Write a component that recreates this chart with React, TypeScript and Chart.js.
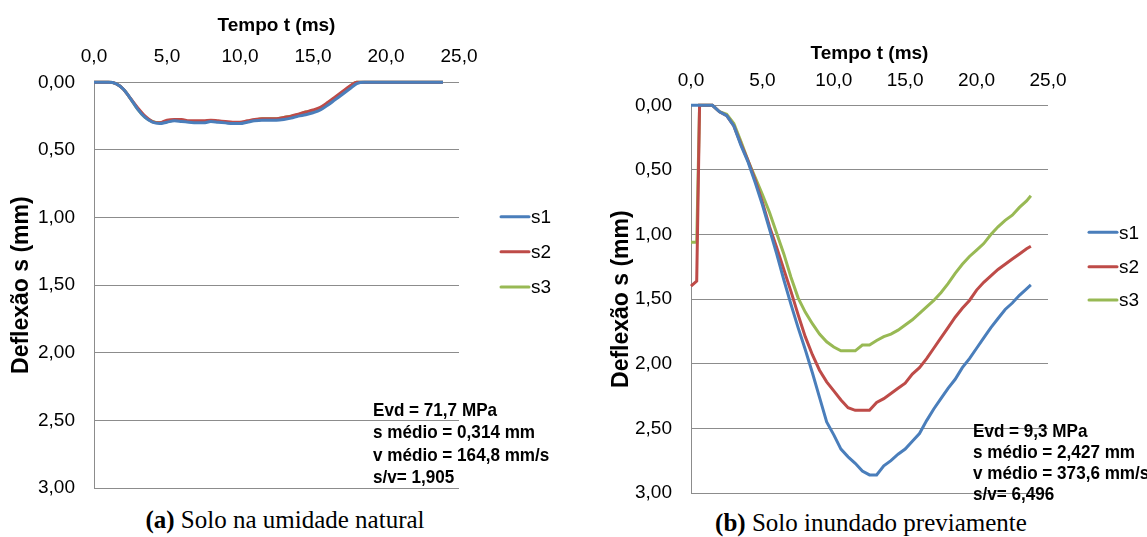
import React, { useEffect, useRef } from 'react';
import { Chart, registerables } from 'chart.js';

Chart.register(...registerables);

// ---------- data ----------
const SERIES_NAMES = ['s1', 's2', 's3'];
const SERIES_COLORS = ['#4A7EBB', '#BE4B48', '#98B954'];

const X_TICKS = [0, 5, 10, 15, 20, 25];
const Y_TICKS = [0, 0.5, 1, 1.5, 2, 2.5, 3];

// (a) Solo na umidade natural
const timeA = [0, 0.5, 1, 1.5, 2, 2.5, 3, 3.5, 4, 4.5, 5, 5.5, 6, 6.5, 7, 7.5, 8, 8.5, 9, 9.5, 10, 10.5, 11, 11.5, 12, 12.5, 13, 13.5, 14, 14.5, 15, 15.5, 16, 16.5, 17, 17.5, 18, 18.5, 19, 19.5, 20, 20.5, 21, 21.5, 22, 22.5, 23, 23.5, 23.9];
const s1A = [0, 0, 0, 0.01, 0.05, 0.12, 0.2, 0.26, 0.295, 0.305, 0.295, 0.285, 0.29, 0.295, 0.3, 0.3, 0.29, 0.295, 0.3, 0.305, 0.305, 0.295, 0.285, 0.28, 0.28, 0.28, 0.275, 0.265, 0.25, 0.24, 0.225, 0.205, 0.17, 0.13, 0.09, 0.05, 0.01, 0, 0, 0, 0, 0, 0, 0, 0, 0, 0, 0, 0];
const s2A = [0, 0, 0, 0.01, 0.05, 0.12, 0.19, 0.25, 0.29, 0.3, 0.28, 0.275, 0.275, 0.285, 0.285, 0.285, 0.28, 0.285, 0.29, 0.295, 0.295, 0.285, 0.275, 0.27, 0.27, 0.27, 0.26, 0.25, 0.235, 0.22, 0.205, 0.185, 0.15, 0.11, 0.07, 0.03, 0, 0, 0, 0, 0, 0, 0, 0, 0, 0, 0, 0, 0];
const s3A = [0, 0, 0, 0.01, 0.05, 0.12, 0.2, 0.26, 0.29, 0.3, 0.29, 0.28, 0.28, 0.29, 0.29, 0.29, 0.285, 0.29, 0.295, 0.3, 0.3, 0.29, 0.28, 0.27, 0.27, 0.27, 0.26, 0.25, 0.24, 0.22, 0.21, 0.19, 0.155, 0.115, 0.075, 0.035, 0, 0, 0, 0, 0, 0, 0, 0, 0, 0, 0, 0, 0];
const notesA = ['Evd = 71,7 MPa', 's médio = 0,314 mm', 'v médio = 164,8 mm/s', 's/v= 1,905'];

// (b) Solo inundado previamente
const timeB = [0, 0.4, 0.6, 1, 1.5, 2, 2.5, 3, 3.5, 4, 4.5, 5, 5.5, 6, 6.5, 7, 7.5, 8, 8.5, 9, 9.5, 10, 10.5, 11, 11.5, 12, 12.5, 13, 13.5, 14, 14.5, 15, 15.5, 16, 16.5, 17, 17.5, 18, 18.5, 19, 19.5, 20, 20.5, 21, 21.5, 22, 22.5, 23, 23.5, 23.8];
const s1B = [0, 0, 0, 0, 0, 0.05, 0.08, 0.16, 0.31, 0.44, 0.6, 0.77, 0.96, 1.15, 1.35, 1.54, 1.72, 1.89, 2.07, 2.26, 2.45, 2.55, 2.66, 2.72, 2.77, 2.83, 2.86, 2.86, 2.79, 2.75, 2.7, 2.66, 2.6, 2.54, 2.44, 2.35, 2.27, 2.19, 2.12, 2.03, 1.96, 1.88, 1.8, 1.72, 1.65, 1.58, 1.53, 1.47, 1.42, 1.39];
const s2B = [1.4, 1.36, 0, 0, 0, 0.05, 0.08, 0.16, 0.3, 0.43, 0.58, 0.75, 0.94, 1.1, 1.27, 1.44, 1.62, 1.79, 1.93, 2.05, 2.14, 2.21, 2.28, 2.34, 2.36, 2.36, 2.36, 2.3, 2.27, 2.23, 2.19, 2.15, 2.08, 2.03, 1.96, 1.88, 1.8, 1.72, 1.64, 1.57, 1.51, 1.43, 1.37, 1.32, 1.27, 1.23, 1.19, 1.15, 1.11, 1.09];
const s3B = [1.06, 1.06, 0, 0, 0, 0.05, 0.07, 0.14, 0.28, 0.43, 0.56, 0.69, 0.83, 0.99, 1.15, 1.33, 1.49, 1.6, 1.69, 1.77, 1.83, 1.87, 1.9, 1.9, 1.9, 1.855, 1.855, 1.82, 1.79, 1.77, 1.74, 1.7, 1.66, 1.61, 1.56, 1.51, 1.45, 1.38, 1.3, 1.23, 1.17, 1.12, 1.07, 1, 0.94, 0.89, 0.85, 0.79, 0.74, 0.7];
const notesB = ['Evd = 9,3 MPa', 's médio = 2,427 mm', 'v médio = 373,6 mm/s', 's/v= 6,496'];

const X_TITLE = 'Tempo t (ms)';
const Y_TITLE = 'Deflexão s (mm)';

// ---------- helpers ----------
const SANS = '"Liberation Sans", Arial, sans-serif';

type Layout = {
  padTop: number; padRight: number; padBottom: number;
  yAxisWidth: number; xAxisHeight: number;
  tickPadX: number; titlePadX: number; titlePadY: number;
  legendX: number; legendY: number[];
  notesX: number; notesY: number; notesDy: number;
  smooth: boolean;
};

function makeConfig(time: number[], series: number[][], notes: string[], L: Layout): any {
  const datasets = series.map((vals, i) => ({
    label: SERIES_NAMES[i],
    data: vals.map((v, j) => ({ x: time[j], y: v })),
    borderColor: SERIES_COLORS[i],
    backgroundColor: SERIES_COLORS[i],
    borderWidth: 3,
    pointRadius: 0,
    fill: false,
    clip: false,
    tension: L.smooth ? 0.4 : 0,
    cubicInterpolationMode: L.smooth ? 'monotone' : 'default',
  }));

  const legendPlugin = {
    id: 'sideLegend',
    afterDraw(chart: any) {
      const ctx = chart.ctx;
      chart.data.datasets.forEach((ds: any, i: number) => {
        const y = L.legendY[i];
        ctx.save();
        ctx.strokeStyle = ds.borderColor;
        ctx.lineWidth = 3;
        ctx.lineCap = 'round';
        ctx.beginPath();
        ctx.moveTo(L.legendX + 1, y);
        ctx.lineTo(L.legendX + 29, y);
        ctx.stroke();
        ctx.fillStyle = '#000';
        ctx.font = `19px ${SANS}`;
        ctx.textAlign = 'left';
        ctx.textBaseline = 'middle';
        ctx.fillText(ds.label, L.legendX + 31, y + 1);
        ctx.restore();
      });
    },
  };

  const notesPlugin = {
    id: 'notes',
    afterDraw(chart: any) {
      const ctx = chart.ctx;
      notes.forEach((t, i) => {
        ctx.save();
        ctx.translate(L.notesX, L.notesY + i * L.notesDy);
        ctx.scale(0.9, 1);
        ctx.fillStyle = '#000';
        ctx.font = `bold 19px ${SANS}`;
        ctx.textAlign = 'left';
        ctx.textBaseline = 'middle';
        ctx.fillText(t, 0, 0);
        ctx.restore();
      });
    },
  };

  return {
    type: 'line',
    data: { datasets },
    options: {
      responsive: false,
      animation: false,
      devicePixelRatio: 1,
      events: [],
      layout: { padding: { left: 0, top: L.padTop, right: L.padRight, bottom: L.padBottom } },
      plugins: { legend: { display: false }, tooltip: { enabled: false }, title: { display: false } },
      scales: {
        x: {
          type: 'linear',
          position: 'top',
          min: 0,
          max: 25,
          afterBuildTicks: (scale: any) => { scale.ticks = X_TICKS.map((v) => ({ value: v })); },
          afterFit: (scale: any) => {
            scale.height = L.xAxisHeight;
            scale.paddingLeft = 0;
            scale.paddingRight = 0;
          },
          ticks: {
            padding: L.tickPadX,
            color: '#000',
            font: { family: SANS, size: 19 },
            maxRotation: 0,
            callback: (v: any) => Number(v).toFixed(1).replace('.', ','),
          },
          grid: { display: false, drawTicks: false },
          border: { display: false },
          title: {
            display: true,
            text: X_TITLE,
            color: '#000',
            font: { family: SANS, size: 19, weight: 'bold' },
            padding: { top: L.titlePadX, bottom: 0 },
          },
        },
        y: {
          type: 'linear',
          position: 'left',
          reverse: true,
          min: 0,
          max: 3,
          afterBuildTicks: (scale: any) => { scale.ticks = Y_TICKS.map((v) => ({ value: v })); },
          afterFit: (scale: any) => {
            scale.width = L.yAxisWidth;
            scale.paddingTop = 0;
            scale.paddingBottom = 0;
          },
          ticks: {
            padding: 19,
            color: '#000',
            font: { family: SANS, size: 19 },
            callback: (v: any) => Number(v).toFixed(2).replace('.', ','),
          },
          grid: { color: '#8C8C8C', lineWidth: 1, drawTicks: false },
          border: { display: true, color: '#8C8C8C', width: 1 },
          title: {
            display: true,
            text: Y_TITLE,
            color: '#000',
            font: { family: SANS, size: 23, weight: 'bold' },
            padding: { top: L.titlePadY, bottom: 0 },
          },
        },
      },
    },
    plugins: [legendPlugin, notesPlugin],
  };
}

function ChartCanvas({ config, left, top, width, height }: any) {
  const ref = useRef<HTMLCanvasElement | null>(null);
  useEffect(() => {
    if (!ref.current) return;
    const chart = new Chart(ref.current, config);
    return () => chart.destroy();
  }, [config]);
  return (
    <canvas
      ref={ref}
      width={width}
      height={height}
      style={{ position: 'absolute', left, top, width, height }}
    />
  );
}

const configA = makeConfig(timeA, [s1A, s2A, s3A], notesA, {
  padTop: 0, padRight: 101, padBottom: 12,
  yAxisWidth: 94, xAxisHeight: 82.3,
  tickPadX: 14, titlePadX: 14, titlePadY: 8,
  legendX: 500, legendY: [216.7, 251.7, 287],
  notesX: 373, notesY: 411, notesDy: 22.2,
  smooth: true,
});

const configB = makeConfig(timeB, [s1B, s2B, s3B], notesB, {
  padTop: 23, padRight: 99, padBottom: 12,
  yAxisWidth: 91, xAxisHeight: 82.3,
  tickPadX: 13, titlePadX: 19, titlePadY: 8.3,
  legendX: 488, legendY: [232.3, 266.7, 300],
  notesX: 373, notesY: 432, notesDy: 20.8,
  smooth: false,
});

export default function App() {
  const cap: React.CSSProperties = {
    position: 'absolute',
    width: 440,
    textAlign: 'center',
    fontFamily: '"Liberation Serif", "Times New Roman", serif',
    fontSize: 25,
    lineHeight: '25px',
    color: '#000',
    whiteSpace: 'nowrap',
  };
  return (
    <div style={{ position: 'fixed', left: 0, top: 0, width: 1147, height: 537, background: '#fff', overflow: 'hidden' }}>
      <ChartCanvas config={configA} left={0} top={0} width={560} height={500} />
      <ChartCanvas config={configB} left={600} top={0} width={547} height={505} />
      <div style={{ ...cap, left: 285 - 220, top: 507 }}>
        <b>(a)</b> Solo na umidade natural
      </div>
      <div style={{ ...cap, left: 871 - 220, top: 510 }}>
        <b>(b)</b> Solo inundado previamente
      </div>
    </div>
  );
}
